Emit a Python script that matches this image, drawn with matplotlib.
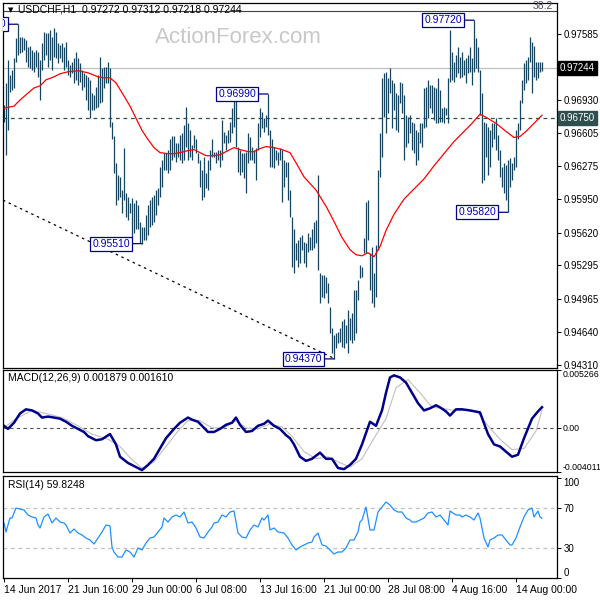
import numpy as np
import matplotlib
matplotlib.use("Agg")
import matplotlib.pyplot as plt
from matplotlib.transforms import blended_transform_factory

# --- bar data (USDCHF H1), one bar per entry ---
HIGH = [0.9688, 0.9710, 0.9733, 0.9718, 0.9723, 0.9735, 0.9754, 0.9768, 0.9755, 0.9755,
        0.9754, 0.9752, 0.9745, 0.9746, 0.9743, 0.9741, 0.9743, 0.9741, 0.9733, 0.9749,
        0.9760, 0.9759, 0.9759, 0.9762, 0.9755, 0.9764, 0.9760, 0.9749, 0.9747, 0.9749,
        0.9745, 0.9750, 0.9733, 0.9728, 0.9731, 0.9735, 0.9741, 0.9735, 0.9730, 0.9723,
        0.9720, 0.9718, 0.9716, 0.9713, 0.9700, 0.9698, 0.9706, 0.9718, 0.9736, 0.9725,
        0.9726, 0.9726, 0.9731, 0.9725, 0.9671, 0.9657, 0.9631, 0.9619, 0.9617, 0.9604,
        0.9646, 0.9601, 0.9597, 0.9591, 0.9596, 0.9591, 0.9594, 0.9589, 0.9572, 0.9567,
        0.9567, 0.9579, 0.9589, 0.9594, 0.9597, 0.9599, 0.9604, 0.9606, 0.9627, 0.9634,
        0.9641, 0.9641, 0.9644, 0.9654, 0.9657, 0.9657, 0.9651, 0.9651, 0.9658, 0.9660,
        0.9668, 0.9686, 0.9670, 0.9663, 0.9649, 0.9658, 0.9654, 0.9641, 0.9634, 0.9624,
        0.9637, 0.9621, 0.9634, 0.9644, 0.9654, 0.9642, 0.9642, 0.9644, 0.9644, 0.9673,
        0.9661, 0.9658, 0.9663, 0.9671, 0.9685, 0.9693, 0.9696, 0.9647, 0.9644, 0.9641,
        0.9641, 0.9642, 0.9660, 0.9656, 0.9647, 0.9644, 0.9646, 0.9670, 0.9685, 0.9681,
        0.9675, 0.9678, 0.9699, 0.9663, 0.9654, 0.9647, 0.9644, 0.9642, 0.9646, 0.9644,
        0.9634, 0.9632, 0.9632, 0.9604, 0.9577, 0.9565, 0.9552, 0.9555, 0.9558, 0.9560,
        0.9553, 0.9552, 0.9562, 0.9558, 0.9565, 0.9572, 0.9574, 0.9619, 0.9522, 0.9520,
        0.9520, 0.9518, 0.9512, 0.9488, 0.9468, 0.9461, 0.9463, 0.9464, 0.9468, 0.9474,
        0.9476, 0.9471, 0.9485, 0.9477, 0.9482, 0.9505, 0.9505, 0.9515, 0.9530, 0.9528,
        0.9557, 0.9592, 0.9594, 0.9542, 0.9548, 0.9522, 0.9550, 0.9624, 0.9660, 0.9715,
        0.9720, 0.9721, 0.9715, 0.9725, 0.9713, 0.9710, 0.9700, 0.9698, 0.9711, 0.9710,
        0.9698, 0.9678, 0.9676, 0.9678, 0.9671, 0.9670, 0.9663, 0.9661, 0.9670, 0.9670,
        0.9705, 0.9706, 0.9713, 0.9708, 0.9708, 0.9706, 0.9705, 0.9715, 0.9703, 0.9685,
        0.9686, 0.9685, 0.9715, 0.9762, 0.9741, 0.9731, 0.9738, 0.9745, 0.9736, 0.9741,
        0.9733, 0.9735, 0.9738, 0.9745, 0.9735, 0.9772, 0.9754, 0.9745, 0.9723, 0.9700,
        0.9671, 0.9670, 0.9666, 0.9663, 0.9670, 0.9670, 0.9675, 0.9658, 0.9644, 0.9627,
        0.9631, 0.9629, 0.9634, 0.9636, 0.9631, 0.9637, 0.9663, 0.9670, 0.9693, 0.9713,
        0.9730, 0.9733, 0.9736, 0.9755, 0.9750, 0.9746, 0.9731, 0.9731, 0.9731, 0.9731]
LOW = [0.9671, 0.9639, 0.9663, 0.9701, 0.9703, 0.9705, 0.9731, 0.9738, 0.9740, 0.9741,
       0.9743, 0.9731, 0.9726, 0.9725, 0.9723, 0.9721, 0.9726, 0.9716, 0.9693, 0.9723,
       0.9733, 0.9738, 0.9726, 0.9733, 0.9723, 0.9736, 0.9735, 0.9730, 0.9735, 0.9731,
       0.9723, 0.9726, 0.9718, 0.9716, 0.9720, 0.9710, 0.9713, 0.9708, 0.9711, 0.9703,
       0.9706, 0.9693, 0.9683, 0.9675, 0.9683, 0.9683, 0.9685, 0.9686, 0.9690, 0.9691,
       0.9705, 0.9710, 0.9710, 0.9666, 0.9654, 0.9621, 0.9589, 0.9594, 0.9597, 0.9581,
       0.9594, 0.9577, 0.9574, 0.9581, 0.9558, 0.9562, 0.9565, 0.9565, 0.9552, 0.9551,
       0.9555, 0.9555, 0.9560, 0.9567, 0.9569, 0.9572, 0.9579, 0.9589, 0.9597, 0.9607,
       0.9624, 0.9624, 0.9621, 0.9624, 0.9634, 0.9637, 0.9632, 0.9637, 0.9634, 0.9631,
       0.9634, 0.9647, 0.9634, 0.9637, 0.9634, 0.9646, 0.9641, 0.9631, 0.9607, 0.9594,
       0.9597, 0.9606, 0.9604, 0.9624, 0.9637, 0.9637, 0.9631, 0.9634, 0.9627, 0.9634,
       0.9651, 0.9644, 0.9651, 0.9652, 0.9660, 0.9666, 0.9647, 0.9622, 0.9619, 0.9622,
       0.9616, 0.9601, 0.9631, 0.9634, 0.9634, 0.9631, 0.9614, 0.9644, 0.9656, 0.9665,
       0.9661, 0.9666, 0.9658, 0.9627, 0.9627, 0.9626, 0.9634, 0.9629, 0.9634, 0.9592,
       0.9607, 0.9617, 0.9594, 0.9577, 0.9528, 0.9522, 0.9535, 0.9528, 0.9532, 0.9545,
       0.9532, 0.9528, 0.9543, 0.9545, 0.9545, 0.9547, 0.9552, 0.9525, 0.9492, 0.9498,
       0.9497, 0.9502, 0.9492, 0.9463, 0.9443, 0.9437, 0.9448, 0.9453, 0.9454, 0.9449,
       0.9448, 0.9453, 0.9443, 0.9456, 0.9453, 0.9456, 0.9463, 0.9495, 0.9517, 0.9518,
       0.9542, 0.9542, 0.9555, 0.9505, 0.9492, 0.9488, 0.9498, 0.9545, 0.9617, 0.9637,
       0.9676, 0.9660, 0.9680, 0.9700, 0.9665, 0.9683, 0.9663, 0.9661, 0.9690, 0.9680,
       0.9634, 0.9647, 0.9651, 0.9660, 0.9644, 0.9641, 0.9629, 0.9634, 0.9651, 0.9647,
       0.9665, 0.9666, 0.9675, 0.9685, 0.9680, 0.9673, 0.9670, 0.9670, 0.9671, 0.9671,
       0.9670, 0.9678, 0.9670, 0.9711, 0.9713, 0.9711, 0.9716, 0.9720, 0.9715, 0.9716,
       0.9718, 0.9710, 0.9720, 0.9721, 0.9708, 0.9721, 0.9725, 0.9721, 0.9678, 0.9611,
       0.9614, 0.9637, 0.9619, 0.9627, 0.9647, 0.9654, 0.9644, 0.9634, 0.9617, 0.9607,
       0.9601, 0.9594, 0.9582, 0.9607, 0.9614, 0.9624, 0.9627, 0.9654, 0.9663, 0.9690,
       0.9703, 0.9710, 0.9713, 0.9731, 0.9700, 0.9716, 0.9713, 0.9715, 0.9721, 0.9722]

# moving average (red), read at bar positions
MA_IDX = [0, 5, 8, 12, 15, 18, 21, 25, 28, 32, 37, 42, 47, 50, 53, 56, 60, 63, 66, 69,
          72, 75, 78, 82, 85, 88, 92, 95, 98, 101, 105, 108, 111, 115, 118, 122, 125, 128, 131, 135,
          139, 143, 146, 150, 156, 161, 165, 169, 173, 176, 179, 182, 185, 188, 191, 195, 200, 205, 210, 215,
          220, 225, 230, 234, 238, 241, 246, 251, 255, 258, 261, 265, 269]
MA_VAL = [0.9685, 0.9687, 0.9693, 0.9700, 0.9705, 0.9707, 0.9713, 0.9716, 0.9719, 0.9721,
          0.9722, 0.9720, 0.9716, 0.9715, 0.9715, 0.9710, 0.9697, 0.9687, 0.9675, 0.9663,
          0.9654, 0.9646, 0.9641, 0.9640, 0.9640, 0.9641, 0.9643, 0.9644, 0.9641, 0.9638,
          0.9638, 0.9639, 0.9642, 0.9646, 0.9644, 0.9642, 0.9642, 0.9645, 0.9647, 0.9646,
          0.9644, 0.9641, 0.9631, 0.9617, 0.9604, 0.9588, 0.9573, 0.9557, 0.9545, 0.9540,
          0.9539, 0.9542, 0.9538, 0.9548, 0.9564, 0.9580, 0.9595, 0.9605, 0.9615, 0.9628,
          0.9640, 0.9652, 0.9662, 0.9670, 0.9679, 0.9676, 0.9670, 0.9662, 0.9656, 0.9657,
          0.9662, 0.9670, 0.9678]

# MACD(12,26,9)
MACD_IDX = [0, 2, 5, 8, 11, 14, 17, 19, 22, 25, 28, 31, 34, 37, 40, 42, 46, 49, 53, 56,
            58, 62, 66, 69, 72, 75, 78, 81, 85, 88, 92, 94, 97, 99, 102, 105, 108, 111, 114, 116,
            118, 121, 124, 127, 130, 132, 135, 138, 141, 143, 145, 148, 151, 154, 158, 161, 164, 167, 170, 173,
            176, 179, 183, 186, 189, 191, 193, 195, 198, 201, 204, 207, 210, 213, 216, 218, 221, 223, 226, 229,
            233, 238, 242, 245, 248, 251, 254, 257, 260, 264, 267, 269]
MACD_VAL = [0.00019, -0.00009, 0.00047, 0.00131, 0.00169, 0.00159, 0.00131, 0.00094, 0.00103, 0.00094,
            0.00084, 0.00056, 0.00019, -0.00009, -0.00037, -0.00075, -0.00112, -0.00103, -0.00056, -0.00150,
            -0.00262, -0.00319, -0.00356, -0.00384, -0.00337, -0.00281, -0.00187, -0.00094, -0.00009, 0.00047,
            0.00094, 0.00075, 0.00056, 0.00019, -0.00037, -0.00037, -0.00009, 0.00028, 0.00047, 0.00094,
            0.00028, -0.00037, -0.00028, 0.00019, 0.00037, 0.00066, 0.00019, -0.00009, -0.00066, -0.00094,
            -0.00150, -0.00262, -0.00300, -0.00281, -0.00225, -0.00281, -0.00281, -0.00365, -0.00375, -0.00337,
            -0.00281, -0.00150, 0.00056, 0.00019, 0.00159, 0.00319, 0.00459, 0.00478, 0.00459, 0.00412,
            0.00319, 0.00225, 0.00159, 0.00178, 0.00206, 0.00187, 0.00150, 0.00112, 0.00169, 0.00169,
            0.00159, 0.00141, -0.00056, -0.00150, -0.00169, -0.00216, -0.00262, -0.00244, -0.00094, 0.00084,
            0.00150, 0.00188]
SIG_IDX = [0, 6, 14, 21, 29, 37, 44, 52, 58, 64, 69, 75, 81, 87, 92, 98, 104, 110, 116, 121,
           127, 133, 139, 144, 150, 156, 162, 167, 173, 179, 185, 191, 196, 202, 208, 214, 219, 225, 231, 237,
           242, 248, 254, 260, 266, 269]
SIG_VAL = [0.0, 0.00084, 0.00159, 0.00131, 0.00094, 0.00019, -0.00056, -0.00103, -0.00169, -0.00290,
           -0.00365, -0.00309, -0.00169, -0.00028, 0.00066, 0.00066, 0.0, 0.0, 0.00066, 0.0,
           -0.00009, 0.00037, 0.00009, -0.00075, -0.00216, -0.00281, -0.00262, -0.00309, -0.00356, -0.00281,
           -0.00094, 0.00084, 0.00365, 0.00440, 0.00319, 0.00187, 0.00178, 0.00159, 0.00159, 0.00141,
           0.00019, -0.00103, -0.00197, -0.00187, -0.00028, 0.00161]

# RSI(14)
RSI_IDX = [0, 1, 3, 4, 6, 8, 10, 12, 14, 16, 17, 18, 20, 22, 24, 26, 28, 30, 31, 33,
           35, 37, 39, 41, 43, 45, 47, 49, 51, 53, 54, 55, 57, 59, 61, 63, 65, 67, 69, 71,
           73, 75, 77, 79, 80, 82, 84, 86, 88, 90, 92, 94, 96, 98, 100, 102, 104, 105, 107, 109,
           111, 113, 115, 117, 119, 121, 123, 125, 127, 129, 130, 132, 133, 135, 137, 140, 142, 144, 146, 148,
           150, 152, 154, 155, 157, 159, 161, 163, 165, 167, 169, 171, 173, 175, 177, 178, 179, 181, 183, 185,
           187, 189, 191, 193, 195, 197, 199, 201, 203, 204, 206, 208, 210, 212, 214, 216, 218, 220, 222, 223,
           226, 228, 229, 231, 233, 235, 237, 238, 240, 242, 243, 245, 247, 249, 251, 253, 254, 256, 258, 260,
           262, 264, 265, 267, 268, 269]
RSI_VAL = [55, 46, 60, 60, 70, 69, 68, 63, 61, 60, 53, 50, 61, 64, 55, 60, 56, 55, 53, 45,
           49, 45, 43, 40, 38, 34, 40, 46, 53, 52, 31, 26, 21, 21, 28, 26, 21, 30, 28, 35,
           40, 41, 46, 51, 60, 56, 61, 63, 61, 66, 55, 56, 50, 41, 40, 46, 51, 55, 56, 63,
           61, 66, 67, 45, 41, 40, 48, 53, 51, 60, 58, 63, 48, 50, 46, 45, 40, 33, 28, 31,
           33, 35, 36, 41, 45, 33, 32, 28, 24, 26, 26, 30, 38, 38, 46, 56, 58, 71, 48, 48,
           66, 71, 76, 73, 68, 66, 66, 60, 58, 56, 56, 58, 60, 65, 66, 61, 63, 58, 53, 67,
           63, 63, 61, 63, 61, 58, 65, 60, 40, 31, 38, 40, 43, 43, 38, 33, 33, 40, 51, 61,
           68, 70, 61, 67, 61, 59.82]

# chart objects
PEAK_HIGH_IDX = [7, 132, 235]
PEAK_LOW_IDX = [69, 165, 252]
TREND_IDX = [-0.5, 164.5]
TREND_PRICE = [0.9594, 0.9438]
LAST_PRICE = 0.97244
HLINE_PRICE = 0.96750
FIB_PRICE = 0.9781
PRICE_TICKS = [0.97585, 0.97255, 0.96930, 0.96605, 0.96275, 0.95950,
               0.95620, 0.95295, 0.94965, 0.94640, 0.94310]
MACD_TICKS = [0.005266, 0.0, -0.004011]
RSI_TICKS = [100, 70, 30, 0]
DATE_IDX = [0, 32, 64, 96, 128, 160, 192, 224, 256]
DATE_LABELS = ['14 Jun 2017', '21 Jun 16:00', '29 Jun 00:00', '6 Jul 08:00', '13 Jul 16:00',
               '21 Jul 00:00', '28 Jul 08:00', '4 Aug 16:00', '14 Aug 00:00']

BAR_COLOR = '#17455f'
NAVY = '#000080'
AXFS = 7

plt.rcParams['font.family'] = ['Liberation Sans', 'DejaVu Sans']
plt.rcParams['font.size'] = 7.5

fig = plt.figure(figsize=(6, 6), dpi=100)
fig.patch.set_facecolor('white')


def rect(x0, y0, x1, y1):
    return [x0 / 600, 1 - y1 / 600, (x1 - x0) / 600, (y1 - y0) / 600]


ax = fig.add_axes(rect(3, 3, 557, 368))
ax_m = fig.add_axes(rect(3, 370, 557, 472), sharex=ax)
ax_r = fig.add_axes(rect(3, 476, 557, 578), sharex=ax)

for a in (ax, ax_m, ax_r):
    for s in a.spines.values():
        s.set_linewidth(0.9)
        s.set_color('black')
    a.yaxis.tick_right()
    a.tick_params(axis='y', direction='out', length=3, width=0.7, pad=1.5, labelsize=AXFS)
    a.tick_params(axis='x', bottom=False, labelbottom=False)

# --- price panel ---
idx = np.arange(len(HIGH))
ax.text(0.425, 0.905, 'ActionForex.com', transform=ax.transAxes, ha='center', va='center',
        fontsize=16, color='#c8c8c8', zorder=0)
ax.axhline(LAST_PRICE, color='#c0c0c0', lw=0.9, zorder=1)
ax.axhline(HLINE_PRICE, color='#2f4f4f', lw=0.9, ls=(0, (3, 3)), zorder=1)
ax.axhline(FIB_PRICE, color='#404040', lw=0.8, zorder=1)
ax.plot(TREND_IDX, TREND_PRICE, color='black', lw=0.9, ls=(0, (2, 3)), zorder=1)
ax.vlines(idx, LOW, HIGH, color=BAR_COLOR, lw=0.9, zorder=2)
ax.plot(MA_IDX, MA_VAL, color='#ff0000', lw=0.9, zorder=3)

peaks = [(i, HIGH[i]) for i in PEAK_HIGH_IDX] + [(i, LOW[i]) for i in PEAK_LOW_IDX]
for i, p in peaks:
    ax.annotate(f'{p:.5f}', xy=(i, p), xytext=(-8.5, 0), textcoords='offset points',
                ha='right', va='center', fontsize=7.5, color='#0000b0', clip_on=True,
                bbox=dict(boxstyle='square,pad=0.2', fc='white', ec=NAVY, lw=0.9),
                arrowprops=dict(arrowstyle='-', color=NAVY, lw=0.9, shrinkA=0, shrinkB=0),
                zorder=5)

ax.set_xlim(-0.5, 276.5)
ax.set_ylim(0.9428, 0.9789)
ax.set_yticks(PRICE_TICKS)
ax.set_yticklabels([f'{v:.5f}' if abs(v - LAST_PRICE) > 0.0003 else '' for v in PRICE_TICKS])

tr = blended_transform_factory(ax.transAxes, ax.transData)
ax.text(1.005, LAST_PRICE, f'{LAST_PRICE:.5f}', transform=tr, ha='left', va='center',
        color='white', fontsize=AXFS, clip_on=False,
        bbox=dict(boxstyle='square,pad=0.2', fc='black', ec='black'))
ax.text(1.005, HLINE_PRICE, f'{HLINE_PRICE:.5f}', transform=tr, ha='left', va='center',
        color='white', fontsize=AXFS, clip_on=False,
        bbox=dict(boxstyle='square,pad=0.2', fc='#2f4f4f', ec='#2f4f4f'))

fig.text(8 / 600, 1 - 10 / 600, '\u25bc', fontsize=5, va='center', ha='left',
         family=['DejaVu Sans'])
fig.text(18 / 600, 1 - 10 / 600, 'USDCHF,H1  0.97272 0.97312 0.97218 0.97244',
         fontsize=7.5, va='center', ha='left')
fig.text(553 / 600, 1 - 6 / 600, '38.2', fontsize=7.5, va='center', ha='right', color='#505060')

# --- MACD panel ---
ax_m.axhline(0, color='#505050', lw=0.8, ls=(0, (3, 3)))
ax_m.plot(SIG_IDX, SIG_VAL, color='#c0c0c0', lw=0.8)
ax_m.plot(MACD_IDX, MACD_VAL, color='#00008b', lw=1.8)
ax_m.set_ylim(-0.004011, 0.005266)
ax_m.set_yticks(MACD_TICKS)
ax_m.set_yticklabels(['0.005266', '0.00', '-0.004011'])
ax_m.tick_params(axis='y', labelsize=6.3, pad=1)
labs = ax_m.get_yticklabels()
labs[0].set_va('top')
labs[2].set_va('bottom')
ax_m.text(0.009, 0.92, 'MACD(12,26,9) 0.001879 0.001610', transform=ax_m.transAxes,
          ha='left', va='center', fontsize=7.5)

# --- RSI panel ---
for lvl in (70, 30):
    ax_r.axhline(lvl, color='#c0c0c0', lw=0.9, ls=(0, (3, 3)))
ax_r.plot(RSI_IDX, RSI_VAL, color='#1e90ff', lw=0.9)
ax_r.set_ylim(0, 102)
ax_r.set_yticks(RSI_TICKS)
ax_r.set_yticklabels([str(v) for v in RSI_TICKS])
labs = ax_r.get_yticklabels()
labs[0].set_va('top')
labs[3].set_va('bottom')
ax_r.text(0.009, 0.91, 'RSI(14) 59.8248', transform=ax_r.transAxes,
          ha='left', va='center', fontsize=7.5)
ax_r.set_xticks(DATE_IDX)
ax_r.set_xticklabels(DATE_LABELS, ha='left')
ax_r.tick_params(axis='x', bottom=True, labelbottom=True, direction='out', length=3,
                 width=0.7, pad=2, labelsize=7.5)

fig.savefig('out.png', dpi=100)
